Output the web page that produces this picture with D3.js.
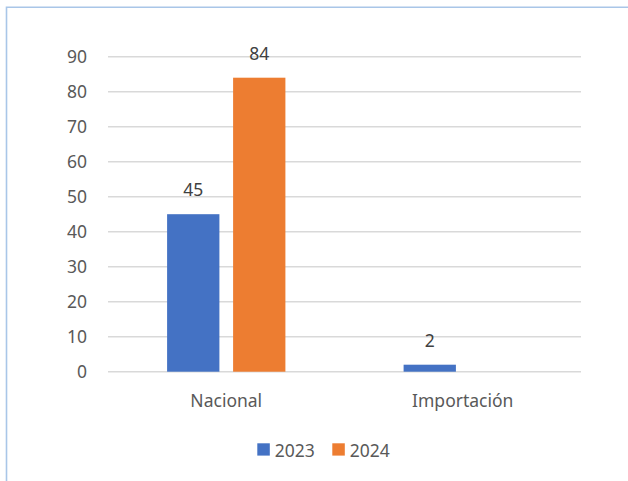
<!DOCTYPE html>
<meta charset="utf-8">
<style>
body{margin:0;background:white}
text{font-family:"Noto Sans",sans-serif;}
.grid line{stroke:#d9d9d9;stroke-width:1.5px}
.axis text{fill:#595959;font-size:17.5px}
</style>
<svg width="628" height="481"></svg>
<script src="https://d3js.org/d3.v7.min.js"></script>
<script>

var categories = ["Nacional", "Importación"];
var seriesNames = ["2023", "2024"];
var values2023 = [45, 2];
var values2024 = [84, 0];
var yTicks = [0, 10, 20, 30, 40, 50, 60, 70, 80, 90];
var colors = ["#4472c4", "#ed7d31"];

var svg = d3.select("svg");

// frame border (left + top)
svg.append("path")
    .attr("d", "M6.5,481V7.2H628")
    .attr("fill", "none")
    .attr("stroke", "#a9c6e8")
    .attr("stroke-width", 1.6);

var plotLeft = 108, plotRight = 581, plotTop = 56.7, plotBottom = 371.7;

var x = d3.scaleBand().domain(categories).range([plotLeft, plotRight]);
var y = d3.scaleLinear().domain([0, 90]).range([plotBottom, plotTop]);

// gridlines
svg.append("g").attr("class", "grid")
  .selectAll("line").data(yTicks).enter().append("line")
    .attr("x1", plotLeft).attr("x2", plotRight)
    .attr("y1", function(d) { return y(d); })
    .attr("y2", function(d) { return y(d); });

// y labels
svg.append("g").attr("class", "axis")
  .selectAll("text").data(yTicks).enter().append("text")
    .attr("x", 87)
    .attr("y", function(d) { return y(d); })
    .attr("dy", "0.35em")
    .attr("text-anchor", "end")
    .text(function(d) { return d; });

// category labels
svg.append("g").attr("class", "axis")
  .selectAll("text").data(categories).enter().append("text")
    .attr("x", function(d) { return x(d) + x.bandwidth() / 2; })
    .attr("y", 406.5)
    .attr("text-anchor", "middle")
    .text(function(d) { return d; });

var barW = 52.3, gap = 13.7, groupW = barW * 2 + gap;
var rows = [];
categories.forEach(function(c, i) {
  rows.push({cat: c, s: 0, v: values2023[i]});
  rows.push({cat: c, s: 1, v: values2024[i]});
});
function bx(d) { return x(d.cat) + x.bandwidth() / 2 - groupW / 2 + d.s * (barW + gap); }

var visible = rows.filter(function(d) { return d.v > 0; });

svg.append("g").selectAll("rect").data(visible).enter().append("rect")
    .attr("x", bx)
    .attr("width", barW)
    .attr("y", function(d) { return y(d.v); })
    .attr("height", function(d) { return y(0) - y(d.v); })
    .attr("fill", function(d) { return colors[d.s]; });

svg.append("g").selectAll("text").data(visible).enter().append("text")
    .attr("x", function(d) { return bx(d) + barW / 2; })
    .attr("y", function(d) { return y(d.v) - 17.8; })
    .attr("text-anchor", "middle")
    .attr("fill", "#404040")
    .style("font-size", "17.5px")
    .text(function(d) { return d.v; });

// legend
var legendX = [257.3, 332.3];
var lg = svg.append("g").selectAll("g").data(seriesNames).enter().append("g")
    .attr("transform", function(d, i) { return "translate(" + legendX[i] + ",443.3)"; });
lg.append("rect").attr("width", 12.5).attr("height", 12.3)
    .attr("fill", function(d, i) { return colors[i]; });
lg.append("text").attr("x", 17.5).attr("y", 13.3)
    .attr("fill", "#595959").style("font-size", "17.5px")
    .text(function(d) { return d; });

</script>
